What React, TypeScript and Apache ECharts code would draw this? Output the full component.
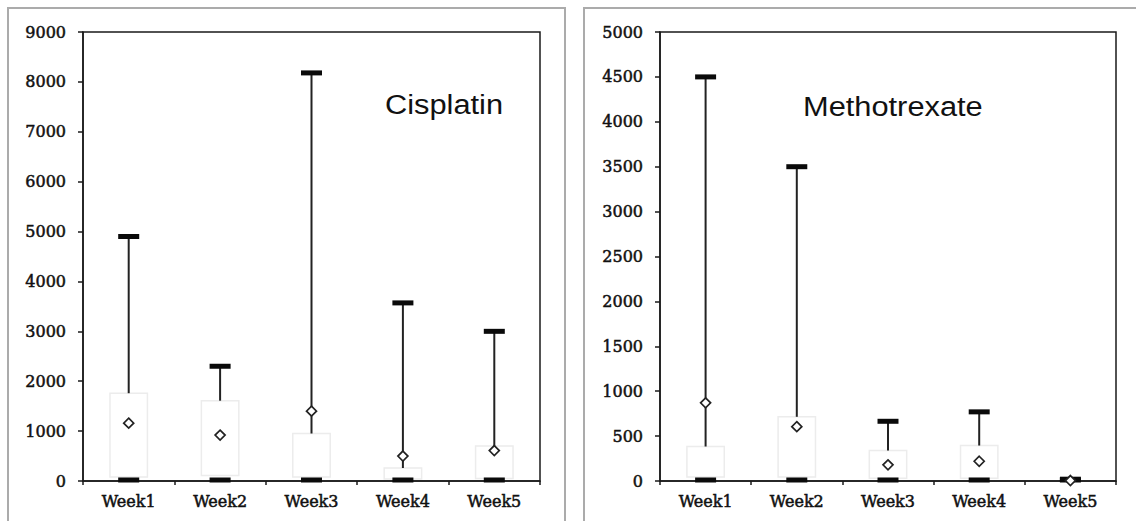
import React, { useEffect, useRef } from "react";
import * as echarts from "echarts";

const weeks = ["Week1", "Week2", "Week3", "Week4", "Week5"];

// Cisplatin
const cisMin = [0, 0, 0, 0, 0];
const cisQ1 = [80, 110, 80, 40, 50];
const cisQ3 = [1760, 1610, 950, 260, 700];
const cisMax = [4900, 2300, 8180, 3570, 3000];
const cisMean = [1160, 920, 1400, 500, 610];

// Methotrexate
const mtxMin = [0, 0, 0, 0, 0];
const mtxQ1 = [45, 45, 30, 30, 0];
const mtxQ3 = [385, 715, 340, 395, 10];
const mtxMax = [4500, 3500, 665, 770, 20];
const mtxMean = [870, 605, 180, 220, 5];

const yTicksLeft = { max: 9000, interval: 1000 };
const yTicksRight = { max: 5000, interval: 500 };

function buildRows(mn: number[], q1: number[], q3: number[], mx: number[], mean: number[]) {
  return weeks.map((_, i) => [i, mn[i], q1[i], q3[i], mx[i], mean[i]]);
}

const renderItem = (params: any, api: any) => {
  const idx = api.value(0);
  const x = api.coord([idx, 0])[0];
  const band = api.size([1, 0])[0];
  const yMin = api.coord([idx, api.value(1)])[1];
  const yQ1 = api.coord([idx, api.value(2)])[1];
  const yQ3 = api.coord([idx, api.value(3)])[1];
  const yMax = api.coord([idx, api.value(4)])[1];
  const yMean = api.coord([idx, api.value(5)])[1];
  const bw = band * 0.41;
  const cw = band * 0.23;
  const th = 5;
  const r = 5;
  const children: any[] = [];
  if (yQ1 - yQ3 > 1) {
    children.push({
      type: "rect",
      shape: { x: x - bw / 2, y: yQ3, width: bw, height: yQ1 - yQ3 },
      style: { fill: "#ffffff", stroke: "#ececec", lineWidth: 1.5 },
    });
  }
  if (yQ3 - yMax > 1) {
    children.push({
      type: "line",
      shape: { x1: x, y1: yMax, x2: x, y2: yQ3 },
      style: { stroke: "#222222", lineWidth: 2 },
    });
  }
  children.push({
    type: "rect",
    shape: { x: x - cw / 2, y: yMax - th / 2, width: cw, height: th },
    style: { fill: "#0a0a0a" },
  });
  children.push({
    type: "rect",
    shape: { x: x - cw / 2, y: yMin - th / 2 - 1, width: cw, height: th },
    style: { fill: "#0a0a0a" },
  });
  children.push({
    type: "polygon",
    shape: {
      points: [
        [x, yMean - r],
        [x + r, yMean],
        [x, yMean + r],
        [x - r, yMean],
      ],
    },
    style: { fill: "#ffffff", stroke: "#222222", lineWidth: 1.7 },
  });
  return { type: "group", children };
};

const labelFont = {
  fontFamily: "DejaVu Serif",
  fontWeight: "normal" as const,
  fontSize: 16,
  color: "#111111",
  textBorderColor: "#111111",
  textBorderWidth: 0.5,
};

function makeXAxis(gridIndex: number) {
  return {
    type: "category" as const,
    gridIndex,
    data: weeks,
    boundaryGap: true,
    axisLine: { lineStyle: { color: "#1a1a1a", width: 1.5 } },
    axisTick: { show: true, inside: false, length: 4, interval: 0, lineStyle: { color: "#1a1a1a", width: 1.5 } },
    axisLabel: { ...labelFont, margin: 12, interval: 0 },
    splitLine: { show: false },
  };
}

function makeYAxis(gridIndex: number, t: { max: number; interval: number }) {
  return {
    type: "value" as const,
    gridIndex,
    min: 0,
    max: t.max,
    interval: t.interval,
    axisLine: { show: true, lineStyle: { color: "#1a1a1a", width: 1.5 } },
    axisTick: { show: true, inside: false, length: 5, lineStyle: { color: "#1a1a1a", width: 1.5 } },
    axisLabel: { ...labelFont, margin: 17, formatter: (v: number) => String(v) },
    splitLine: { show: false },
  };
}

export default function App() {
  const ref = useRef<HTMLDivElement>(null);
  useEffect(() => {
    if (!ref.current) return;
    const chart = echarts.init(ref.current, undefined, { renderer: "svg" });
    chart.setOption({
      animation: false,
      backgroundColor: "#ffffff",
      grid: [
        { left: 83, top: 32, width: 457, height: 449, show: true, borderColor: "#1a1a1a", borderWidth: 1.5, backgroundColor: "transparent" },
        { left: 660, top: 32, width: 456, height: 449, show: true, borderColor: "#1a1a1a", borderWidth: 1.5, backgroundColor: "transparent" },
      ],
      xAxis: [makeXAxis(0), makeXAxis(1)],
      yAxis: [makeYAxis(0, yTicksLeft), makeYAxis(1, yTicksRight)],
      graphic: [
        {
          type: "rect",
          shape: { x: 8, y: 8, width: 557, height: 600 },
          style: { fill: "none", stroke: "#ababab", lineWidth: 2 },
          z: -10,
        },
        {
          type: "rect",
          shape: { x: 584, y: 8, width: 600, height: 600 },
          style: { fill: "none", stroke: "#ababab", lineWidth: 2 },
          z: -10,
        },
        {
          type: "text",
          x: 385,
          y: 104,
          scaleX: 1.1,
          style: {
            text: "Cisplatin",
            fontFamily: "Liberation Sans",
            fontSize: 28,
            fill: "#111111",
            align: "left",
            verticalAlign: "middle",
          },
        },
        {
          type: "text",
          x: 803,
          y: 106,
          scaleX: 1.1,
          style: {
            text: "Methotrexate",
            fontFamily: "Liberation Sans",
            fontSize: 28,
            fill: "#111111",
            align: "left",
            verticalAlign: "middle",
          },
        },
      ],
      series: [
        {
          type: "custom",
          name: "Cisplatin",
          xAxisIndex: 0,
          yAxisIndex: 0,
          renderItem,
          encode: { x: 0, y: [1, 2, 3, 4, 5] },
          data: buildRows(cisMin, cisQ1, cisQ3, cisMax, cisMean),
          z: 5,
        },
        {
          type: "custom",
          name: "Methotrexate",
          xAxisIndex: 1,
          yAxisIndex: 1,
          renderItem,
          encode: { x: 0, y: [1, 2, 3, 4, 5] },
          data: buildRows(mtxMin, mtxQ1, mtxQ3, mtxMax, mtxMean),
          z: 5,
        },
      ],
    });
    return () => chart.dispose();
  }, []);
  return (
    <div
      ref={ref}
      style={{ position: "absolute", left: 0, top: 0, width: 1136, height: 521 }}
    />
  );
}
